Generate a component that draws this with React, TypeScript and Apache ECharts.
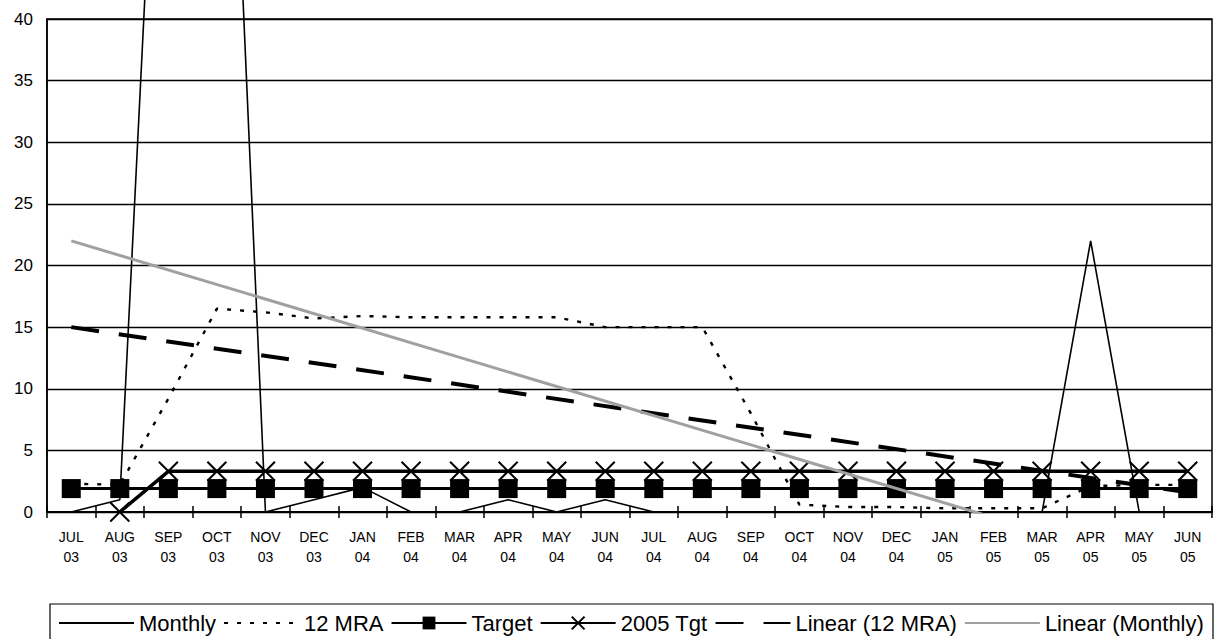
import { useEffect, useRef } from "react";
import * as echarts from "echarts";

// Months JUL 03 – JUN 05, two-line labels
const categories = [
  "JUL\n03", "AUG\n03", "SEP\n03", "OCT\n03", "NOV\n03", "DEC\n03",
  "JAN\n04", "FEB\n04", "MAR\n04", "APR\n04", "MAY\n04", "JUN\n04",
  "JUL\n04", "AUG\n04", "SEP\n04", "OCT\n04", "NOV\n04", "DEC\n04",
  "JAN\n05", "FEB\n05", "MAR\n05", "APR\n05", "MAY\n05", "JUN\n05",
];

const monthly = [0, 1, 80, 90, 0, 1, 2, 0, 0, 1, 0, 1, 0, 0, 0, 0, 0, 0, 0, 0, 0, 22, 0, null];
const mra12 = [2.3, 2.2, 9.2, 16.5, 16.2, 15.7, 15.9, 15.8, 15.8, 15.8, 15.8, 15.0, 15.0, 15.0, 8.0, 0.6, 0.4, 0.4, 0.3, 0.3, 0.3, 2.1, 2.2, 2.2];
const target = [1.9, 1.9, 1.9, 1.9, 1.9, 1.9, 1.9, 1.9, 1.9, 1.9, 1.9, 1.9, 1.9, 1.9, 1.9, 1.9, 1.9, 1.9, 1.9, 1.9, 1.9, 1.9, 1.9, 1.9];
const tgt2005 = [null, 0, 3.3, 3.3, 3.3, 3.3, 3.3, 3.3, 3.3, 3.3, 3.3, 3.3, 3.3, 3.3, 3.3, 3.3, 3.3, 3.3, 3.3, 3.3, 3.3, 3.3, 3.3, 3.3];

// Trend lines: [category index, value] at each end
const linearMra = [[0, 15.0], [23, 1.6]];
const linearMonthly = [[0, 22.0], [22, -4.0]];

const yTicks = { min: 0, max: 40, interval: 5 };

const legendNames = ["Monthly", "12 MRA", "Target", "2005 Tgt", "Linear (12 MRA)", "Linear (Monthly)"];
// Series drawn as plain lines get no marker in the legend key
const plainLines = ["Monthly", "12 MRA", "Linear (12 MRA)", "Linear (Monthly)"];

const FONT = "'Liberation Sans', Arial, sans-serif";
const INK = "#000000";
const GREY = "#a0a0a0";

export default function App() {
  const ref = useRef<HTMLDivElement>(null);

  useEffect(() => {
    if (!ref.current) return;
    const chart = echarts.init(ref.current, null, { renderer: "svg" });

    const option: any = {
      animation: false,
      backgroundColor: "#ffffff",
      textStyle: { fontFamily: FONT, color: INK },
      grid: {
        left: 47,
        right: 7,
        top: 19,
        bottom: 127,
        show: true,
        borderColor: INK,
        borderWidth: 1.5,
        backgroundColor: "transparent",
      },
      xAxis: [
        {
          type: "category",
          data: categories,
          boundaryGap: true,
          axisLine: { show: true, lineStyle: { color: INK, width: 2 } },
          axisTick: { show: true, length: 6, lineStyle: { color: INK, width: 1.5 } },
          axisLabel: {
            interval: 0,
            fontSize: 14,
            lineHeight: 20,
            margin: 15,
            color: INK,
            fontFamily: FONT,
          },
          splitLine: { show: false },
        },
        {
          type: "category",
          data: categories,
          position: "bottom",
          boundaryGap: true,
          axisLine: { show: false },
          axisTick: { show: true, inside: true, length: 6, lineStyle: { color: INK, width: 1.5 } },
          axisLabel: { show: false },
          splitLine: { show: false },
        },
      ],
      yAxis: {
        type: "value",
        min: yTicks.min,
        max: yTicks.max,
        interval: yTicks.interval,
        axisLine: { show: true, lineStyle: { color: INK, width: 1.5 } },
        axisTick: { show: false },
        axisLabel: { fontSize: 17, color: INK, margin: 14, fontFamily: FONT },
        splitLine: { show: true, lineStyle: { color: INK, width: 1.3 } },
      },
      legend: {
        left: 58,
        top: 612,
        padding: 0,
        itemWidth: 75,
        itemHeight: 16,
        itemGap: 7,
        textStyle: { fontSize: 22, color: INK, fontFamily: FONT },
        data: legendNames.map((name) =>
          plainLines.includes(name)
            ? { name, itemStyle: { color: "rgba(0,0,0,0)", borderColor: "rgba(0,0,0,0)", borderWidth: 0 } }
            : { name }
        ),
      },
      graphic: [
        {
          type: "rect",
          shape: { x: 50, y: 604, width: 1163, height: 40 },
          style: { fill: "none", stroke: INK, lineWidth: 1.2 },
          silent: true,
        },
      ],
      series: [
        {
          name: "Monthly",
          type: "line",
          data: monthly,
          symbol: "none",
          clip: false,
          connectNulls: false,
          lineStyle: { color: INK, width: 1.6 },
          itemStyle: { color: INK },
          z: 3,
        },
        {
          name: "12 MRA",
          type: "line",
          data: mra12,
          symbol: "none",
          lineStyle: { color: INK, width: 2.4, type: [4, 9] },
          itemStyle: { color: INK },
          z: 3,
        },
        {
          name: "2005 Tgt",
          type: "line",
          data: tgt2005,
          symbol: "path://M0,0L20,20M20,0L0,20",
          symbolSize: 19,
          lineStyle: { color: INK, width: 3.5 },
          itemStyle: { color: INK, borderColor: INK, borderWidth: 2 },
          z: 4,
        },
        {
          name: "Target",
          type: "line",
          data: target,
          symbol: "rect",
          symbolSize: 19,
          lineStyle: { color: INK, width: 3 },
          itemStyle: { color: INK },
          z: 5,
        },
        {
          name: "Linear (12 MRA)",
          type: "line",
          data: linearMra,
          symbol: "none",
          clip: true,
          lineStyle: { color: INK, width: 4, type: [28, 20] },
          itemStyle: { color: INK },
          z: 6,
        },
        {
          name: "Linear (Monthly)",
          type: "line",
          data: linearMonthly,
          symbol: "none",
          clip: true,
          lineStyle: { color: GREY, width: 3 },
          itemStyle: { color: GREY },
          z: 6,
        },
      ],
    };

    chart.setOption(option);
    return () => chart.dispose();
  }, []);

  return (
    <div
      ref={ref}
      style={{ position: "fixed", left: 0, top: 0, width: 1219, height: 639, background: "#fff" }}
    />
  );
}
